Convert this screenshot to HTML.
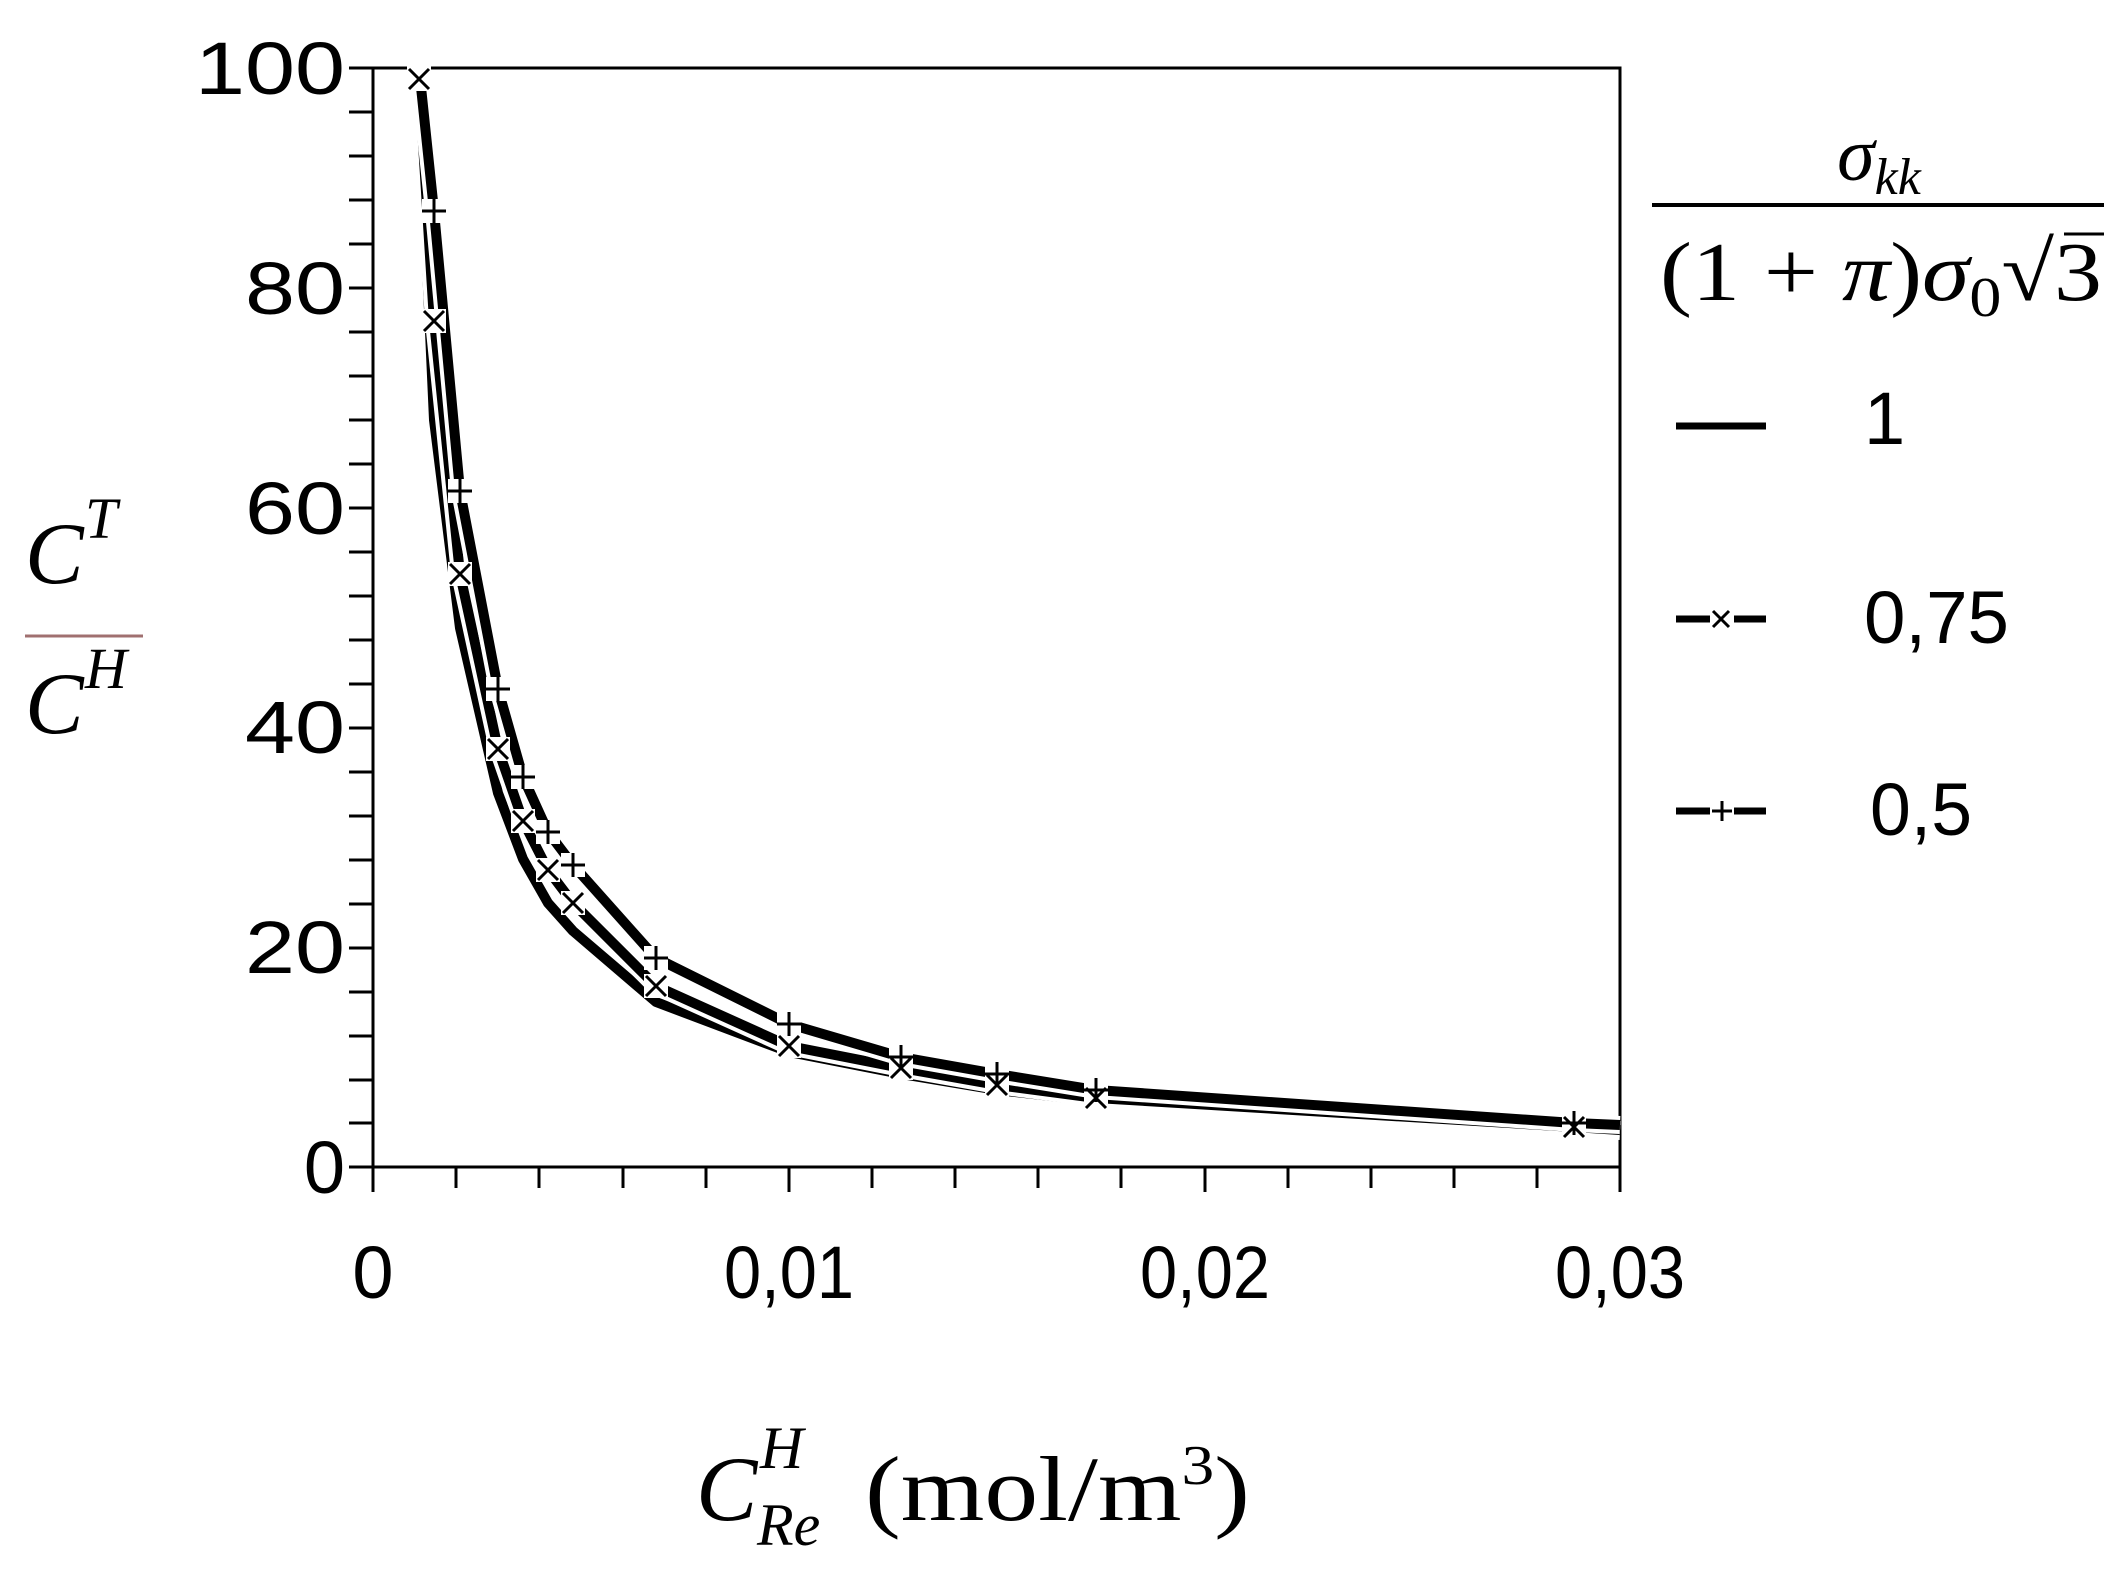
<!DOCTYPE html>
<html><head><meta charset="utf-8"><style>
html,body{margin:0;padding:0;background:#fff;}
svg{display:block;}
.t{font-family:"Liberation Sans",sans-serif;font-size:74px;fill:#000;}
.m{font-family:"Liberation Serif",serif;fill:#000;}
</style></head><body>
<svg width="2120" height="1571" viewBox="0 0 2120 1571" xmlns="http://www.w3.org/2000/svg">
<rect width="2120" height="1571" fill="#fff"/>
<rect x="373" y="68" width="1247" height="1099" fill="none" stroke="#000" stroke-width="3"/>
<g stroke="#000" stroke-width="3">
<path d="M349 68H373M349 112H373M349 156H373M349 200H373M349 244H373M349 288H373M349 332H373M349 376H373M349 420H373M349 464H373M349 508H373M349 552H373M349 596H373M349 640H373M349 684H373M349 728H373M349 772H373M349 816H373M349 860H373M349 904H373M349 948H373M349 992H373M349 1036H373M349 1080H373M349 1123H373M349 1167H373"/>
<path d="M373 1167V1192M456 1167V1188M539 1167V1188M623 1167V1188M706 1167V1188M789 1167V1192M872 1167V1188M955 1167V1188M1038 1167V1188M1121 1167V1188M1205 1167V1192M1288 1167V1188M1371 1167V1188M1454 1167V1188M1537 1167V1188M1620 1167V1192"/>
</g>
<g class="t" text-anchor="end">
<text x="345" y="94" textLength="150" lengthAdjust="spacingAndGlyphs">100</text><text x="345" y="314" textLength="100" lengthAdjust="spacingAndGlyphs">80</text><text x="345" y="534" textLength="100" lengthAdjust="spacingAndGlyphs">60</text><text x="345" y="753" textLength="100" lengthAdjust="spacingAndGlyphs">40</text><text x="345" y="973" textLength="100" lengthAdjust="spacingAndGlyphs">20</text><text x="345" y="1193">0</text>
</g>
<g class="t" text-anchor="middle">
<text x="373" y="1298">0</text><text x="789" y="1298" textLength="130" lengthAdjust="spacingAndGlyphs">0,01</text><text x="1205" y="1298" textLength="130" lengthAdjust="spacingAndGlyphs">0,02</text><text x="1620" y="1298" textLength="130" lengthAdjust="spacingAndGlyphs">0,03</text>
</g>
<g fill="none" stroke-linejoin="round">
<polyline stroke="#fff" stroke-width="18" points="419,90 434,420 460,628 498,793 523,859 548,903 573,931 656,1002 789,1052 901,1074 997,1090 1096,1101 1574,1129 1620,1131"/>
<polyline stroke="#000" stroke-width="10" points="419,90 434,420 460,628 498,793 523,859 548,903 573,931 656,1002 789,1052 901,1074 997,1090 1096,1101 1574,1129 1620,1131"/>
<polyline stroke="#fff" stroke-width="18" points="419,79 434,321 460,574 498,749 523,821 548,870 573,903 656,986 789,1046 901,1068 997,1085 1096,1098 1574,1127 1620,1130"/>
<polyline stroke="#000" stroke-width="10" points="419,79 434,321 460,574 498,749 523,821 548,870 573,903 656,986 789,1046 901,1068 997,1085 1096,1098 1574,1127 1620,1130"/>
<polyline stroke="#fff" stroke-width="18" points="419,68 434,211 460,491 498,689 523,777 548,832 573,865 656,958 789,1024 901,1057 997,1074 1096,1090 1574,1123 1620,1125"/>
<polyline stroke="#000" stroke-width="10" points="419,68 434,211 460,491 498,689 523,777 548,832 573,865 656,958 789,1024 901,1057 997,1074 1096,1090 1574,1123 1620,1125"/>
</g>
<g stroke="#000" stroke-width="3">
<g fill="#fff" stroke="none">
<rect x="407" y="67" width="24" height="24"/><rect x="422" y="309" width="24" height="24"/><rect x="448" y="562" width="24" height="24"/><rect x="486" y="737" width="24" height="24"/><rect x="511" y="809" width="24" height="24"/><rect x="536" y="858" width="24" height="24"/><rect x="561" y="891" width="24" height="24"/><rect x="644" y="974" width="24" height="24"/><rect x="777" y="1034" width="24" height="24"/><rect x="889" y="1056" width="24" height="24"/><rect x="985" y="1073" width="24" height="24"/><rect x="1084" y="1086" width="24" height="24"/><rect x="1562" y="1115" width="24" height="24"/>
<rect x="407" y="56" width="24" height="24"/><rect x="422" y="199" width="24" height="24"/><rect x="448" y="479" width="24" height="24"/><rect x="486" y="677" width="24" height="24"/><rect x="511" y="765" width="24" height="24"/><rect x="536" y="820" width="24" height="24"/><rect x="561" y="853" width="24" height="24"/><rect x="644" y="946" width="24" height="24"/><rect x="777" y="1012" width="24" height="24"/><rect x="889" y="1045" width="24" height="24"/><rect x="985" y="1062" width="24" height="24"/><rect x="1084" y="1078" width="24" height="24"/><rect x="1562" y="1111" width="24" height="24"/>
</g>
<path d="M409 69l20 20M429 69l-20 20M424 311l20 20M444 311l-20 20M450 564l20 20M470 564l-20 20M488 739l20 20M508 739l-20 20M513 811l20 20M533 811l-20 20M538 860l20 20M558 860l-20 20M563 893l20 20M583 893l-20 20M646 976l20 20M666 976l-20 20M779 1036l20 20M799 1036l-20 20M891 1058l20 20M911 1058l-20 20M987 1075l20 20M1007 1075l-20 20M1086 1088l20 20M1106 1088l-20 20M1564 1117l20 20M1584 1117l-20 20"/>
<path d="M434 199v24M422 211h24M460 479v24M448 491h24M498 677v24M486 689h24M523 765v24M511 777h24M548 820v24M536 832h24M573 853v24M561 865h24M656 946v24M644 958h24M789 1012v24M777 1024h24M901 1045v24M889 1057h24M997 1062v24M985 1074h24M1096 1078v24M1084 1090h24M1574 1111v24M1562 1123h24"/>
</g>
<text class="m" x="25" y="583" font-size="88" font-style="italic">C</text><text class="m" x="85" y="538" font-size="58" font-style="italic">T</text>
<line x1="25" y1="636" x2="143" y2="636" stroke="#a07070" stroke-width="3"/>
<text class="m" x="25" y="733" font-size="88" font-style="italic">C</text><text class="m" x="85" y="688" font-size="58" font-style="italic">H</text>
<text class="m" x="696" y="1520" font-size="92" font-style="italic">C</text>
<text class="m" x="760" y="1468" font-size="60" font-style="italic">H</text>
<text class="m" x="757" y="1545" font-size="60" font-style="italic">Re</text>
<text class="m" x="865" y="1520" font-size="92" textLength="385" lengthAdjust="spacingAndGlyphs">(mol/m<tspan font-size="56" dy="-36">3</tspan><tspan dy="36">)</tspan></text>
<text class="m" x="1879" y="180" font-size="76" text-anchor="middle" font-style="italic">σ<tspan font-size="52" dy="14">kk</tspan></text>
<line x1="1652" y1="205" x2="2104" y2="205" stroke="#000" stroke-width="4"/>
<text class="m" x="1660" y="300" font-size="84" textLength="442" lengthAdjust="spacingAndGlyphs">(1 + <tspan font-style="italic">π</tspan>)<tspan font-style="italic">σ</tspan><tspan font-size="56" dy="16">0</tspan><tspan dy="-16">√3</tspan></text>
<line x1="2064" y1="234" x2="2104" y2="234" stroke="#000" stroke-width="3"/>
<g stroke="#000" stroke-width="7">
<line x1="1676" y1="426" x2="1766" y2="426"/>
<line x1="1676" y1="619" x2="1766" y2="619"/>
<line x1="1676" y1="811" x2="1766" y2="811"/>
</g>
<rect x="1710" y="606" width="24" height="26" fill="#fff"/><path d="M1713 611l16 16M1729 611l-16 16" stroke="#000" stroke-width="3"/>
<rect x="1710" y="798" width="24" height="26" fill="#fff"/><path d="M1722 801v20M1712 811h20" stroke="#000" stroke-width="3"/>
<g class="t"><text x="1864" y="444">1</text><text x="1864" y="643" textLength="145" lengthAdjust="spacingAndGlyphs">0,75</text><text x="1870" y="835" textLength="102" lengthAdjust="spacingAndGlyphs">0,5</text></g>
</svg>
</body></html>
